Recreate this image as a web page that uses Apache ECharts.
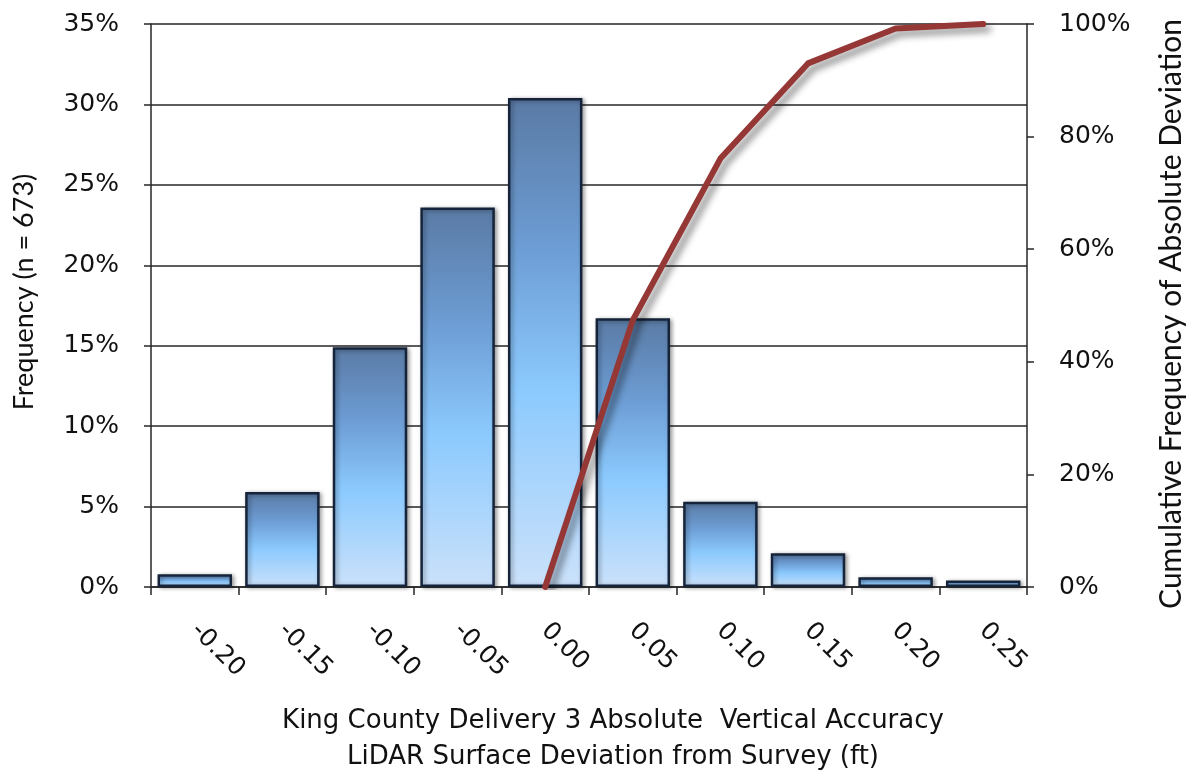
<!DOCTYPE html>
<html>
<head>
<meta charset="utf-8">
<title>King County Delivery 3 Absolute Vertical Accuracy</title>
<script src="https://cdn.jsdelivr.net/npm/echarts@6/dist/echarts.min.js"></script>
<style>
  html, body { margin: 0; padding: 0; background: #ffffff; }
  #chart { width: 1189px; height: 778px; }
</style>
</head>
<body>
<div id="chart"></div>
<script>
// Deviation bins (ft)
const categories = ['-0.20', '-0.15', '-0.10', '-0.05', '0.00', '0.05', '0.10', '0.15', '0.20', '0.25'];
// Share of the 673 checkpoints falling in each bin (%)
const frequencyPct = [0.8, 5.9, 14.9, 23.6, 30.4, 16.7, 5.3, 2.1, 0.6, 0.4];
// Cumulative frequency of absolute deviation (%), starting at the 0.00 bin
const cumulativeAbsPct = [null, null, null, null, 0, 47.4, 76.1, 93.0, 99.2, 100];
// Axis ranges (%)
const frequencyAxis = { min: 0, max: 35, step: 5 };
const cumulativeAxis = { min: 0, max: 100, step: 20 };

const leftTitle = 'Frequency (n = 673)';
const rightTitle = 'Cumulative Frequency of Absolute Deviation';
const bottomTitle = [
  'King County Delivery 3 Absolute  Vertical Accuracy',
  'LiDAR Surface Deviation from Survey (ft)'
];

const FONT = '"DejaVu Sans", sans-serif';
const TITLE_FONT = 'Lato, "DejaVu Sans", sans-serif';
const INK = '#111111';
const RULE = '#262626';

const chart = echarts.init(document.getElementById('chart'), null, { renderer: 'canvas' });

chart.setOption({
  backgroundColor: '#ffffff',
  animation: false,
  grid: { left: 151, right: 162, top: 24, bottom: 191, containLabel: false },
  xAxis: {
    type: 'category',
    data: categories,
    boundaryGap: true,
    axisLine: { show: true, lineStyle: { color: RULE, width: 1.5 } },
    axisTick: { show: true, alignWithLabel: false, length: 8, lineStyle: { color: RULE, width: 1.5 } },
    axisLabel: {
      rotate: -45,
      margin: 40,
      color: INK,
      fontFamily: FONT,
      fontSize: 25,
      interval: 0
    },
    splitLine: { show: false }
  },
  yAxis: [
    {
      type: 'value',
      min: frequencyAxis.min,
      max: frequencyAxis.max,
      interval: frequencyAxis.step,
      axisLine: { show: true, lineStyle: { color: RULE, width: 1.5 } },
      axisTick: { show: true, length: 7, lineStyle: { color: RULE, width: 1.5 } },
      axisLabel: {
        formatter: '{value}%',
        margin: 32,
        color: INK,
        fontFamily: FONT,
        fontSize: 25
      },
      splitLine: { show: true, lineStyle: { color: RULE, width: 1.5 } }
    },
    {
      type: 'value',
      position: 'right',
      min: cumulativeAxis.min,
      max: cumulativeAxis.max,
      interval: cumulativeAxis.step,
      axisLine: { show: true, lineStyle: { color: RULE, width: 1.5 } },
      axisTick: { show: true, length: 7, lineStyle: { color: RULE, width: 1.5 } },
      axisLabel: {
        formatter: '{value}%',
        margin: 32,
        color: INK,
        fontFamily: FONT,
        fontSize: 25
      },
      splitLine: { show: false }
    }
  ],
  graphic: [
    {
      // left axis title, reading bottom to top
      type: 'text',
      x: 24,
      y: 292,
      rotation: Math.PI / 2,
      style: {
        text: leftTitle,
        fill: INK,
        font: '27px ' + TITLE_FONT,
        align: 'center',
        verticalAlign: 'middle'
      }
    },
    {
      // right axis title, reading bottom to top
      type: 'text',
      x: 1171,
      y: 314,
      rotation: Math.PI / 2,
      style: {
        text: rightTitle,
        fill: INK,
        font: '30px ' + TITLE_FONT,
        align: 'center',
        verticalAlign: 'middle'
      }
    },
    {
      type: 'text',
      x: 613,
      y: 739,
      style: {
        text: bottomTitle.join('\n'),
        fill: INK,
        font: '26px ' + FONT,
        lineHeight: 36,
        align: 'center',
        verticalAlign: 'middle'
      }
    }
  ],
  series: [
    {
      name: 'Frequency',
      type: 'bar',
      yAxisIndex: 0,
      data: frequencyPct,
      barCategoryGap: '15%',
      itemStyle: {
        color: new echarts.graphic.LinearGradient(0, 0, 0, 1, [
          { offset: 0, color: '#5a7aa4' },
          { offset: 0.3, color: '#6c9cd3' },
          { offset: 0.6, color: '#8ccafe' },
          { offset: 1, color: '#cbe1fa' }
        ]),
        borderColor: '#15243a',
        borderWidth: 2.5,
        shadowColor: 'rgba(0,0,0,0.35)',
        shadowBlur: 4,
        shadowOffsetX: 2,
        shadowOffsetY: 1
      },
      z: 2
    },
    {
      name: 'Cumulative Frequency of Absolute Deviation',
      type: 'line',
      yAxisIndex: 1,
      data: cumulativeAbsPct,
      connectNulls: false,
      showSymbol: false,
      symbol: 'none',
      lineStyle: {
        color: '#953735',
        width: 6,
        cap: 'round',
        join: 'round',
        shadowColor: 'rgba(0,0,0,0.45)',
        shadowBlur: 7,
        shadowOffsetX: 5,
        shadowOffsetY: 5
      },
      z: 3
    }
  ]
});
</script>
</body>
</html>
